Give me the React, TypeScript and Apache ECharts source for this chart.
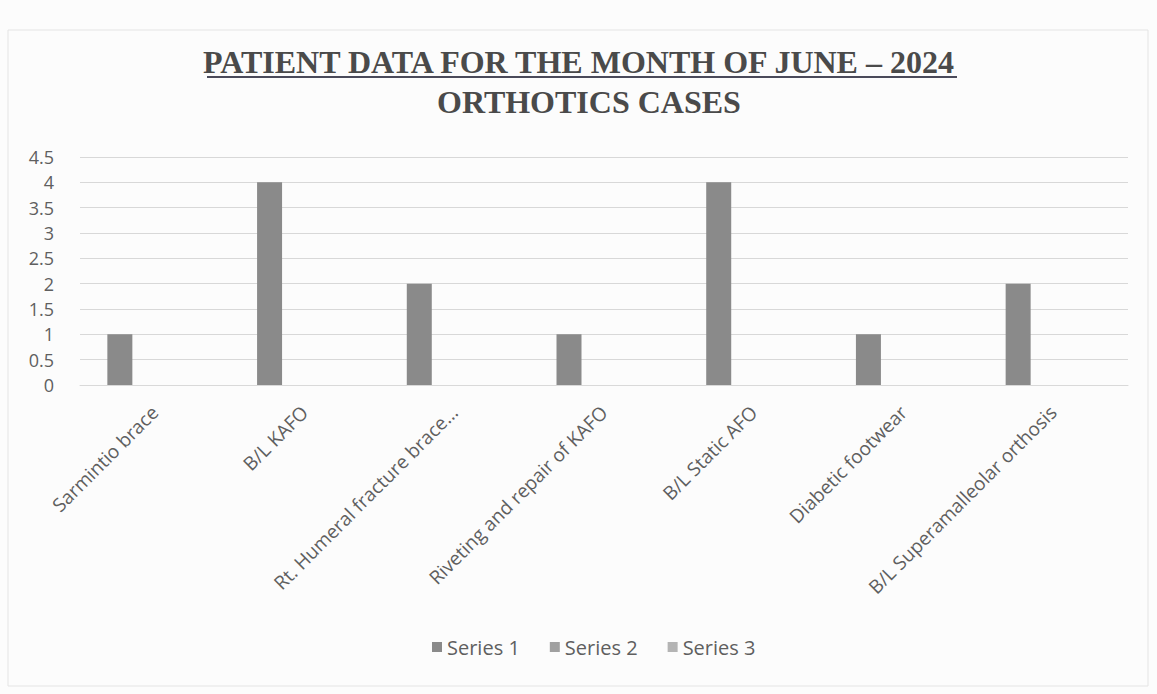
import React, { useEffect, useRef } from "react";
import * as echarts from "echarts";

const categories = [
  "Sarmintio brace",
  "B/L KAFO",
  "Rt. Humeral fracture brace...",
  "Riveting and repair of KAFO",
  "B/L Static AFO",
  "Diabetic footwear",
  "B/L Superamalleolar orthosis",
];
const series1 = [1, 4, 2, 1, 4, 1, 2];
const series2: (number | null)[] = [null, null, null, null, null, null, null];
const series3: (number | null)[] = [null, null, null, null, null, null, null];
const seriesNames = ["Series 1", "Series 2", "Series 3"];
const titleText = "PATIENT DATA FOR THE MONTH OF JUNE – 2024";
const subtitleText = "ORTHOTICS CASES";

export default function App() {
  const ref = useRef<HTMLDivElement>(null);
  useEffect(() => {
    if (!ref.current) return;
    const chart = echarts.init(ref.current, undefined, { renderer: "svg" });
    const labelColor = "#5f5f5f";
    const titleStyle = {
      fontFamily: "Liberation Serif",
      fontWeight: "bold",
      fontSize: 32,
      color: "#4a4a4a",
    };
    chart.setOption({
      animation: false,
      backgroundColor: "#fcfcfc",
      title: [
        { text: titleText, left: "center", top: 41, textStyle: titleStyle },
        { text: subtitleText, left: 432, top: 81, textStyle: titleStyle },
      ],
      graphic: [
        {
          type: "rect",
          shape: { x: 8, y: 30, width: 1140, height: 656 },
          style: { fill: "none", stroke: "#e4e4e4", lineWidth: 1 },
          silent: true,
        },
        {
          type: "line",
          shape: { x1: 207, y1: 77, x2: 957, y2: 77 },
          style: { stroke: "#4a4a5a", lineWidth: 2 },
        },
      ],
      legend: {
        data: seriesNames,
        bottom: 32,
        left: 427,
        itemWidth: 10,
        itemHeight: 10,
        itemGap: 30,
        icon: "rect",
        textStyle: { color: labelColor, fontSize: 20, fontFamily: "Open Sans" },
      },
      grid: { left: 80, right: 29, top: 157, bottom: 309 },
      xAxis: {
        type: "category",
        data: categories,
        axisTick: { show: false },
        axisLine: { show: true, lineStyle: { color: "#d9d9d9" } },
        axisLabel: {
          rotate: 45,
          interval: 0,
          color: labelColor,
          fontSize: 19,
          fontFamily: "Open Sans",
          margin: 24,
        },
      },
      yAxis: {
        type: "value",
        min: 0,
        max: 4.5,
        interval: 0.5,
        axisLine: { show: false },
        axisTick: { show: false },
        splitLine: { lineStyle: { color: "#d8d8d8" } },
        axisLabel: {
          color: labelColor,
          fontSize: 18,
          fontFamily: "Open Sans",
          margin: 26,
        },
      },
      series: [
        {
          name: seriesNames[0],
          type: "bar",
          data: series1,
          barWidth: 25,
          barGap: "40%",
          itemStyle: { color: "#8a8a8a" },
        },
        {
          name: seriesNames[1],
          type: "bar",
          data: series2,
          barWidth: 25,
          barGap: "40%",
          itemStyle: { color: "#a0a0a0" },
        },
        {
          name: seriesNames[2],
          type: "bar",
          data: series3,
          barWidth: 25,
          barGap: "40%",
          itemStyle: { color: "#b4b4b4" },
        },
      ],
    });
    return () => chart.dispose();
  }, []);
  return (
    <div
      ref={ref}
      style={{ position: "fixed", left: 0, top: 0, width: 1157, height: 694 }}
    />
  );
}
